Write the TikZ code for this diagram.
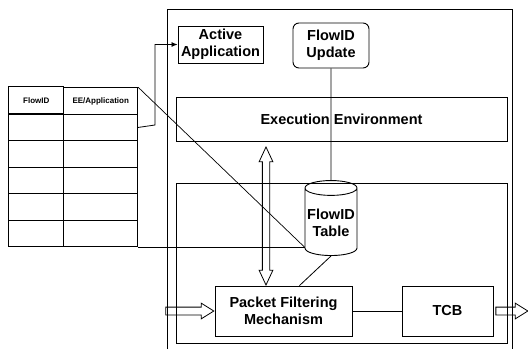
\documentclass[tikz,border=0pt]{standalone}
\usepackage{fontspec}
\setmainfont{Liberation Sans}
\usetikzlibrary{shapes.geometric,shapes.arrows,matrix,arrows.meta,calc}

\begin{document}
\begin{tikzpicture}[x=1pt,y=-1pt,line width=0.9pt,
  box/.style={draw, align=center, inner sep=1pt, font=\fontsize{14.5}{17}\selectfont\bfseries},
  hollow/.style={draw, line width=0.8pt, inner xsep=0pt, inner ysep=3.5pt,
    single arrow head extend=4pt, single arrow tip angle=64}]
  \useasboundingbox (0,0) rectangle (528,349);
  % Node frame and its two layers
  \draw (167,349) -- (167,9) -- (512,9) -- (512,349);
  \node[box, minimum width=331pt, minimum height=44pt] (ee) at (341.5,119) {Execution Environment};
  \node[draw, minimum width=331pt, minimum height=160pt] (kern) at (341.5,263) {};
  % Top row
  \node[box, minimum width=85pt, minimum height=37pt] (act) at (220.5,44.5) {Active\\Application};
  \node[box, rounded corners=6pt, minimum width=76pt, minimum height=45pt] (upd) at (331,45.5) {FlowID\\Update};
  % Lower layer
  \node[box, cylinder, shape border rotate=90, aspect=0.3, minimum width=52pt, minimum height=75pt] (cyl) at (331,223) {FlowID\\Table};
  \node[box, minimum width=137pt, minimum height=50pt] (pfm) at (283.5,311) {Packet Filtering\\Mechanism};
  \node[box, minimum width=91pt, minimum height=50pt] (tcb) at (447.5,311) {TCB};
  % FlowID table
  \matrix (tab) [matrix of nodes, nodes in empty cells, anchor=north west, inner sep=0pt,
    column sep=-0.9pt, row sep=-0.9pt,
    nodes={draw, minimum height=26.5pt, inner sep=0pt, font=\fontsize{8}{9}\selectfont\bfseries},
    column 1/.style={nodes={minimum width=54.9pt}},
    column 2/.style={nodes={minimum width=73.9pt}}] at (8,86) {
    FlowID & EE/Application \\
    & \\
    & \\
    & \\
    & \\
    & \\
  };
  % Connectors
  \coordinate (bend) at (155,125);
  \draw[line width=0.8pt, -{Latex[length=6pt,width=5pt]}] (tab-2-2.east) -- (bend) |- (act.west);
  \coordinate (tabin) at (tab-6-2.south east -| cyl.west);
  \draw[line width=0.7pt] (tab-1-2.north east) -- (tabin);
  \draw[line width=0.7pt] (tab-6-2.south east) -- (tabin);
  \draw[line width=0.8pt] (upd.south) -- (cyl.north);
  \draw[line width=0.8pt] (cyl.south) -- ([xshift=16pt]pfm.north);
  \draw[line width=0.8pt] (pfm.east) -- (tcb.west);
  % Hollow arrows
  \node[hollow, single arrow, minimum height=48pt, anchor=tip] (pin) at (pfm.west) {};
  \node[hollow, single arrow, minimum height=32pt, anchor=tail] (pout) at ([xshift=2pt]tcb.east) {};
  \coordinate (ctltop) at ([yshift=1pt]ee.south -| 266,0);
  \coordinate (ctlbot) at ([yshift=-6pt]pfm.north -| 266,0);
  \node[draw, double arrow, line width=0.8pt, inner xsep=0pt, inner ysep=3.25pt,
    double arrow head extend=3.25pt, double arrow tip angle=50, rotate=90,
    minimum height=138pt] (ctl) at ($(ctltop)!0.5!(ctlbot)$) {};
\end{tikzpicture}
\end{document}
